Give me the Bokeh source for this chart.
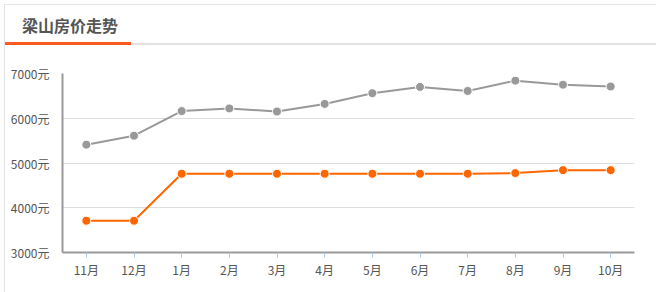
from bokeh.plotting import figure
from bokeh.models import Div, Range1d, PrintfTickFormatter, FixedTicker
from bokeh.layouts import column
from bokeh.embed import file_html
from bokeh.resources import INLINE

months = ["11月", "12月", "1月", "2月", "3月", "4月", "5月", "6月", "7月", "8月", "9月", "10月"]
gray_series = [5410, 5610, 6160, 6220, 6150, 6320, 6560, 6700, 6610, 6840, 6750, 6710]
orange_series = [3710, 3710, 4760, 4760, 4760, 4760, 4760, 4760, 4760, 4775, 4840, 4840]
y_ticks = [3000, 4000, 5000, 6000, 7000]
title_text = "梁山房价走势"

FONT = "Noto Sans CJK SC"

header = Div(
    text=(
        '<div style="position:relative;width:651px;height:40px;box-sizing:border-box;'
        'border-bottom:2px solid #e2e2e2;">'
        '<div style="position:absolute;left:0px;bottom:-2px;width:126px;height:3px;background:#ff5a1f;"></div>'
        f'<div style="position:absolute;left:17px;top:8px;font-family:\'{FONT}\';font-weight:bold;'
        f'font-size:16px;color:#555555;line-height:24px;">{title_text}</div>'
        '</div>'
    ),
    width=651, height=40, margin=(0, 0, 0, 0),
)

p = figure(
    x_range=months, y_range=Range1d(3000, 7000),
    width=651, height=247,
    output_backend="svg", toolbar_location=None,
    min_border_left=57, min_border_right=22, min_border_top=28, min_border_bottom=40,
    margin=(0, 0, 0, 0),
)
p.outline_line_color = None
p.background_fill_color = "white"

p.line(months, gray_series, line_color="#999999", line_width=2)
p.scatter(months, gray_series, size=9, fill_color="#999999", line_color="white", line_width=1)
p.line(months, orange_series, line_color="#ff6600", line_width=2)
p.scatter(months, orange_series, size=9, fill_color="#ff6600", line_color="white", line_width=1)

p.yaxis.ticker = FixedTicker(ticks=y_ticks)
p.yaxis.formatter = PrintfTickFormatter(format="%d元")
p.yaxis.axis_line_color = "#999999"
p.yaxis.axis_line_width = 2
p.yaxis.major_tick_line_color = None
p.yaxis.minor_tick_line_color = None
p.yaxis.major_label_standoff = 7
p.yaxis.major_label_text_font = FONT
p.yaxis.major_label_text_font_size = "12px"
p.yaxis.major_label_text_color = "#555555"

p.xaxis.axis_line_color = "#999999"
p.xaxis.axis_line_width = 2
p.xaxis.major_tick_line_color = "#a8c8ea"
p.xaxis.major_tick_in = 0
p.xaxis.major_tick_out = 5
p.xaxis.minor_tick_line_color = None
p.xaxis.major_label_standoff = 3
p.xaxis.major_label_text_font = FONT
p.xaxis.major_label_text_font_size = "12px"
p.xaxis.major_label_text_color = "#555555"

p.xgrid.grid_line_color = None
p.ygrid.ticker = FixedTicker(ticks=y_ticks)
p.ygrid.grid_line_color = "#dddddd"
p.ygrid.grid_line_width = 1

layout = column(header, p, margin=(4, 0, 0, 4), spacing=0,
                styles={"border-top": "1px solid #e4e4e4", "border-left": "1px solid #e4e4e4"})

open("out.html", "w").write(file_html(layout, INLINE))
